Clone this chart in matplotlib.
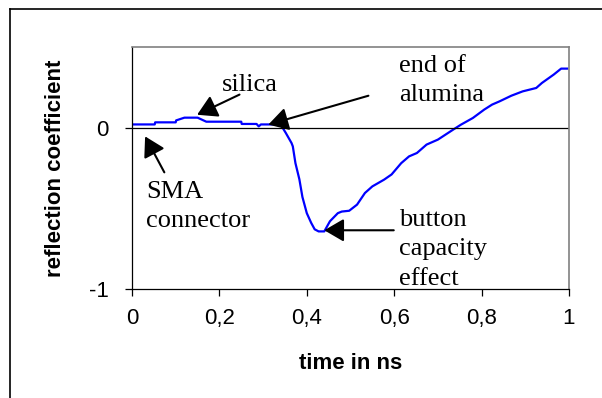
import numpy as np
import matplotlib
matplotlib.use("Agg")
from matplotlib import pyplot as plt
from matplotlib.lines import Line2D

timeNs = [0.0, 0.052, 0.053, 0.10, 0.101, 0.12, 0.15, 0.17, 0.171, 0.25, 0.251, 0.285, 0.29, 0.295,
          0.34, 0.352, 0.365, 0.368, 0.374, 0.383, 0.39, 0.40, 0.41, 0.418, 0.427, 0.44,
          0.453, 0.471, 0.48, 0.497, 0.515, 0.533, 0.55, 0.577, 0.594, 0.616, 0.634, 0.652,
          0.674, 0.70, 0.735, 0.753, 0.78, 0.806, 0.824, 0.841, 0.868, 0.894, 0.925, 0.938,
          0.965, 0.982, 0.996]
reflection = [0.02, 0.02, 0.033, 0.033, 0.045, 0.062, 0.062, 0.037, 0.037, 0.037, 0.023, 0.023, 0.008, 0.02,
              0.02, -0.033, -0.095, -0.116, -0.22, -0.32, -0.43, -0.53, -0.59, -0.63, -0.643, -0.643,
              -0.58, -0.53, -0.52, -0.515, -0.477, -0.405, -0.364, -0.322, -0.29, -0.22, -0.178, -0.157,
              -0.105, -0.074, -0.012, 0.019, 0.06, 0.112, 0.143, 0.163, 0.198, 0.225, 0.246, 0.277,
              0.329, 0.366, 0.366]

xTicks = [0, 0.2, 0.4, 0.6, 0.8, 1]
xTickLabels = ["0", "0,2", "0,4", "0,6", "0,8", "1"]
yTicks = [-1, 0]
yTickLabels = ["-1", "0"]

# label, text pos, arrow tail, arrow tip
notes = [
    ("silica", (0.27, 0.262), (0.246, 0.205), (0.149, 0.08)),
    ("end of\nalumina", (0.612, 0.29), (0.541, 0.198), (0.312, 0.019)),
    ("SMA\nconnector", (0.033, -0.49), (0.074, -0.277), (0.03, -0.054)),
    ("button\ncapacity\neffect", (0.612, -0.755), (0.599, -0.636), (0.44, -0.636)),
]

fig = plt.figure(figsize=(6.02, 3.98), dpi=100)
ax = fig.add_axes([132 / 602, (398 - 289) / 398, (569 - 132) / 602, (289 - 47) / 398])

ax.plot(timeNs, reflection, color='#0000FF', lw=1.6)
ax.axhline(0, color='black', lw=0.9)

ax.set_xlim(0, 1)
ax.set_ylim(-1, 0.5)
ax.set_xticks(xTicks)
ax.set_xticklabels(xTickLabels, fontsize=16, fontname='Liberation Sans')
ax.set_yticks(yTicks)
ax.set_yticklabels(yTickLabels, fontsize=16, fontname='Liberation Sans')
ax.tick_params(direction='out', length=5, width=0.9)
ax.tick_params(axis='x', pad=9)
ax.tick_params(axis='y', pad=12)
for s in ['top', 'right']:
    ax.spines[s].set_color('#808080')
    ax.spines[s].set_linewidth(1.2)
for s in ['left', 'bottom']:
    ax.spines[s].set_color('black')
    ax.spines[s].set_linewidth(0.9)

ax.set_xlabel('time in ns', fontsize=16, fontweight='bold', fontname='Liberation Sans', labelpad=17)
ax.set_ylabel('reflection coefficient', fontsize=16, fontweight='bold', fontname='Liberation Sans', labelpad=16)

for label, txt, tail, tip in notes:
    ha = 'center' if label == 'silica' else 'left'
    ax.text(txt[0], txt[1], label, fontsize=19, fontname='Liberation Serif', ha=ha, va='center',
            linespacing=1.42)
    ax.annotate('', xy=tip, xytext=tail,
                arrowprops=dict(arrowstyle='-|>,head_length=0.6,head_width=0.35', mutation_scale=20,
                                color='black', lw=1.5, shrinkA=0, shrinkB=0))

# outer frame (top and left edges visible)
fig.add_artist(Line2D([10 / 602, 10 / 602], [0, 1 - 9 / 398], transform=fig.transFigure, color='black', lw=1.2))
fig.add_artist(Line2D([10 / 602, 1], [1 - 9 / 398, 1 - 9 / 398], transform=fig.transFigure, color='black', lw=1.2))

fig.savefig('out.png', dpi=100)
